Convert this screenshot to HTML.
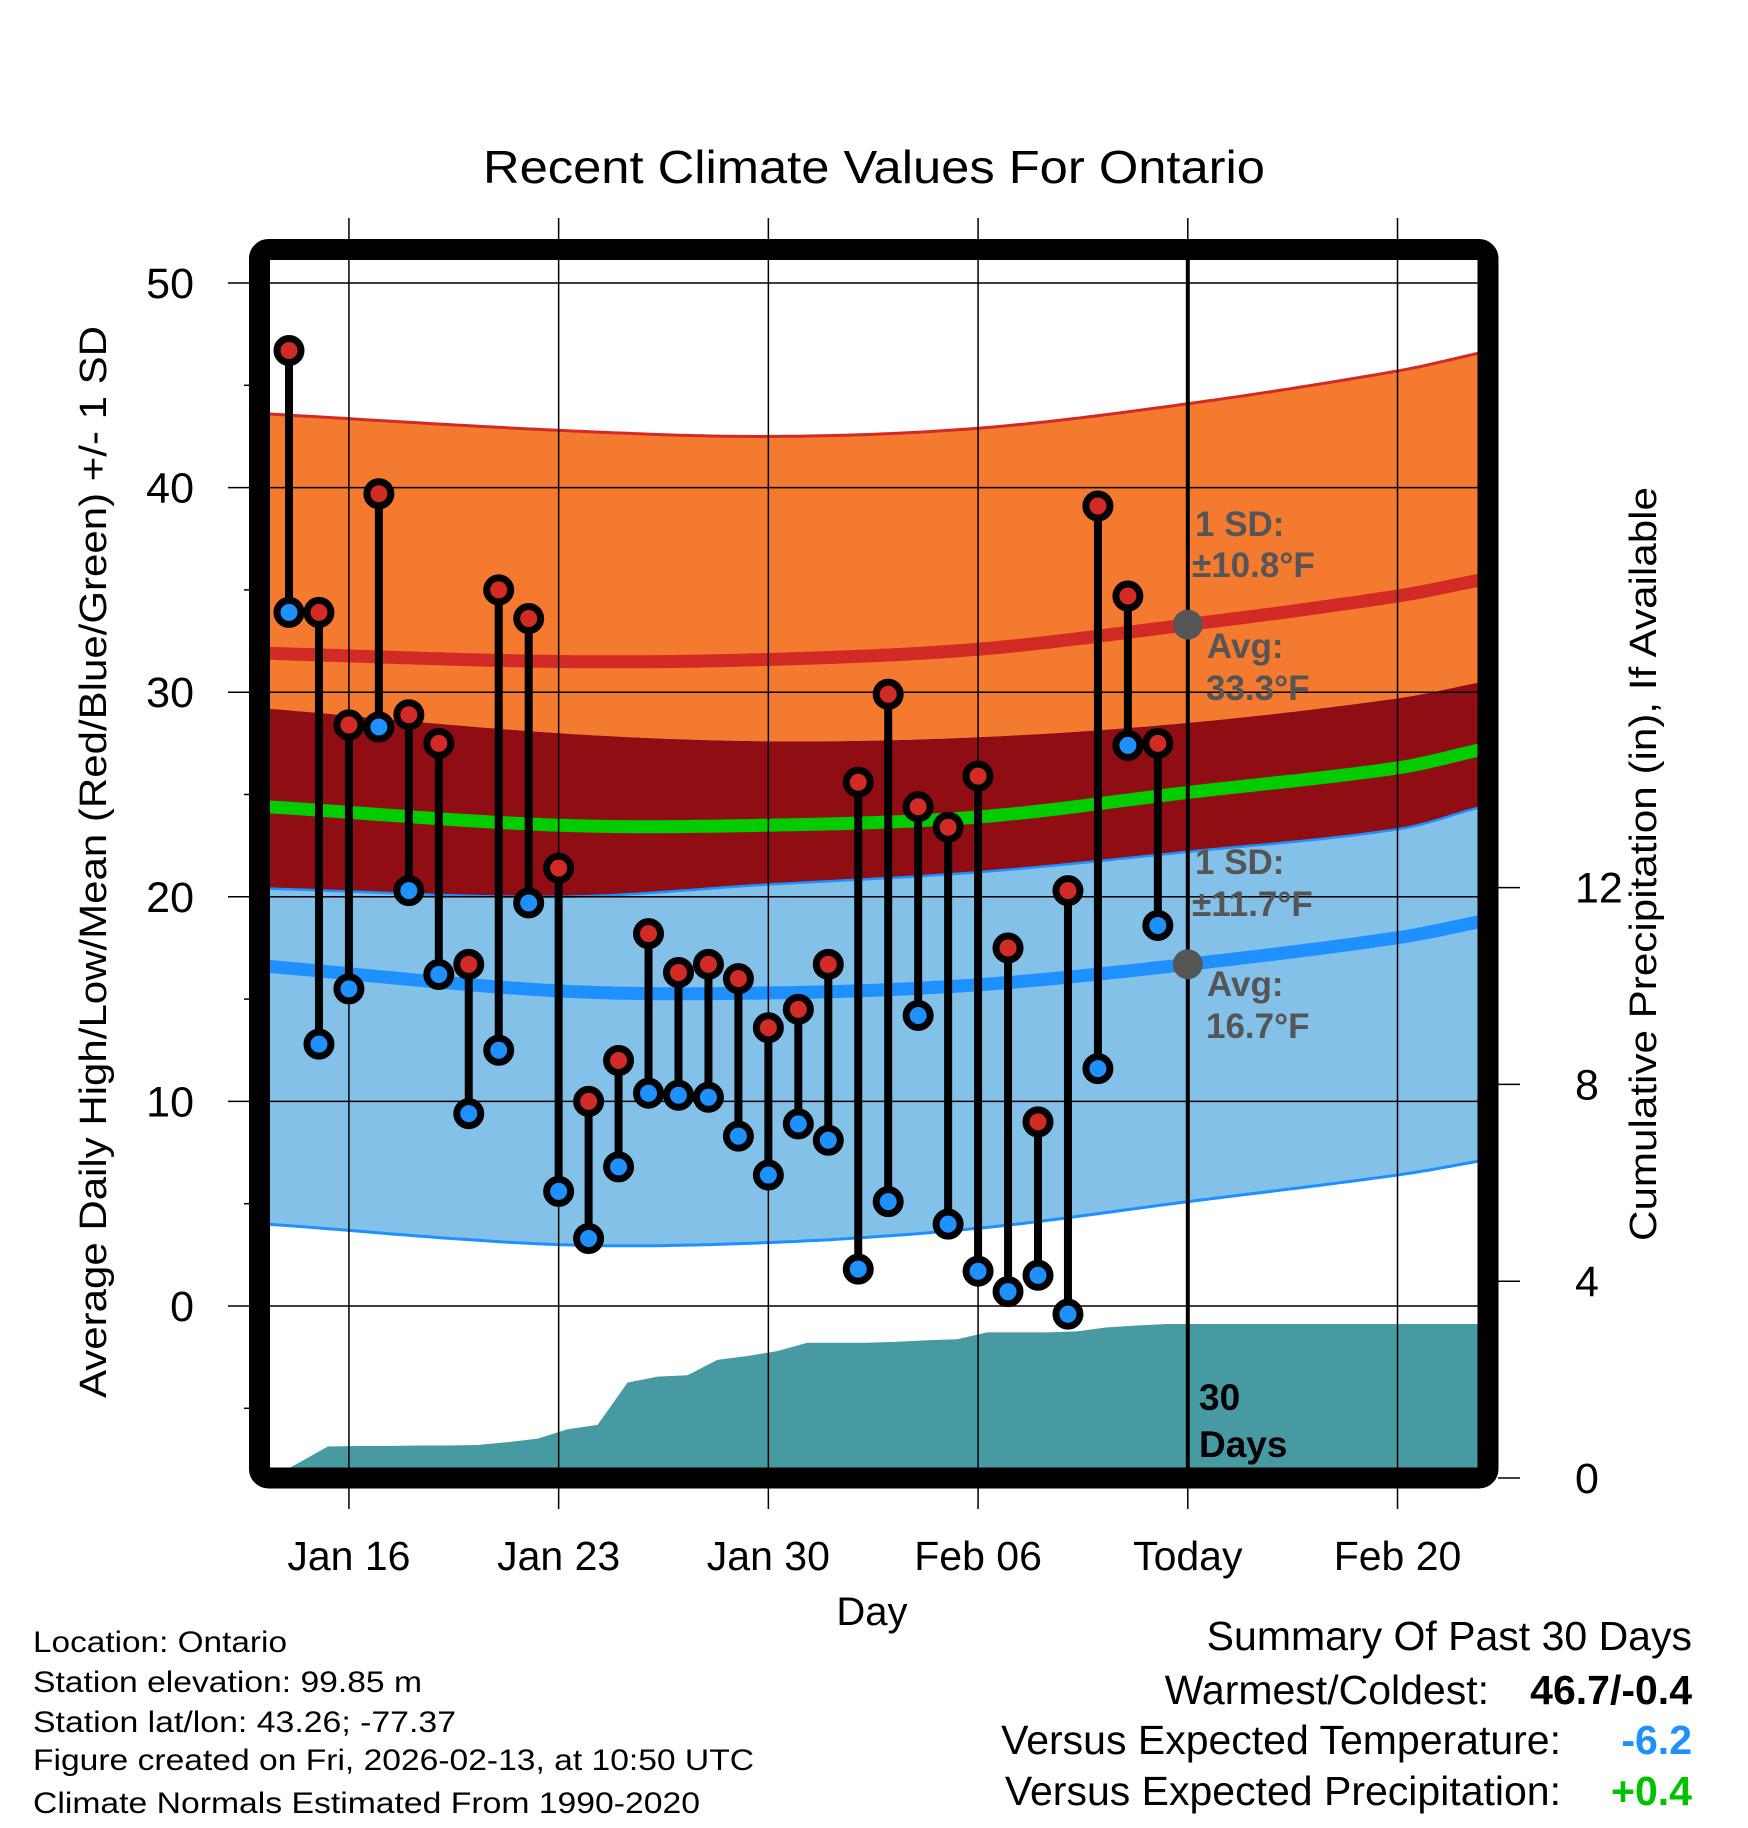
<!DOCTYPE html>
<html><head><meta charset="utf-8"><style>
html,body{margin:0;padding:0;background:#fff;}
svg{display:block;font-family:"Liberation Sans",Arial,sans-serif;}
</style></head><body>
<svg id="chart" width="1748" height="1828" viewBox="0 0 1748 1828" xmlns="http://www.w3.org/2000/svg">
<defs><clipPath id="plotclip"><rect x="262" y="252" width="1224" height="1224"/></clipPath></defs>
<rect x="0" y="0" width="1748" height="1828" fill="#fff"/>
<text x="874" y="183" font-size="46" text-anchor="middle" textLength="782" lengthAdjust="spacingAndGlyphs">Recent Climate Values For Ontario</text>
<g id="bands" clip-path="url(#plotclip)"></g>
<g id="grid"></g>
<g id="marks"></g>
<g id="annot"></g>
<rect x="259.5" y="249.5" width="1228.5" height="1228.5" rx="9" fill="none" stroke="#000" stroke-width="21"/>
<g id="axes"></g>
<text transform="translate(106,862) rotate(-90)" font-size="38" text-anchor="middle" textLength="1072" lengthAdjust="spacingAndGlyphs">Average Daily High/Low/Mean (Red/Blue/Green) +/- 1 SD</text>
<text transform="translate(1656,864) rotate(-90)" font-size="38" text-anchor="middle" textLength="754" lengthAdjust="spacingAndGlyphs">Cumulative Precipitation (in), If Available</text>
<text x="872" y="1625" font-size="40" text-anchor="middle">Day</text>
<g font-size="30">
<text x="33" y="1652" textLength="254" lengthAdjust="spacingAndGlyphs">Location: Ontario</text>
<text x="33" y="1692" textLength="389" lengthAdjust="spacingAndGlyphs">Station elevation: 99.85 m</text>
<text x="33" y="1732" textLength="423" lengthAdjust="spacingAndGlyphs">Station lat/lon: 43.26; -77.37</text>
<text x="33" y="1770" textLength="721" lengthAdjust="spacingAndGlyphs">Figure created on Fri, 2026-02-13, at 10:50 UTC</text>
<text x="33" y="1813" textLength="667" lengthAdjust="spacingAndGlyphs">Climate Normals Estimated From 1990-2020</text>
</g>
<g font-size="41">
<text x="1692" y="1650" text-anchor="end">Summary Of Past 30 Days</text>
<text x="1489" y="1704" text-anchor="end">Warmest/Coldest:</text>
<text x="1692" y="1704" text-anchor="end" font-weight="bold">46.7/-0.4</text>
<text x="1561" y="1754" text-anchor="end">Versus Expected Temperature:</text>
<text x="1692" y="1754" text-anchor="end" font-weight="bold" fill="#1e90ff">-6.2</text>
<text x="1561" y="1805" text-anchor="end">Versus Expected Precipitation:</text>
<text x="1692" y="1805" text-anchor="end" font-weight="bold" fill="#00c000">+0.4</text>
</g>
</svg>
<script>
// Daily observations Jan 14 .. Feb 12
const days = ["Jan 14","Jan 15","Jan 16","Jan 17","Jan 18","Jan 19","Jan 20","Jan 21","Jan 22","Jan 23","Jan 24","Jan 25","Jan 26","Jan 27","Jan 28","Jan 29","Jan 30","Jan 31","Feb 01","Feb 02","Feb 03","Feb 04","Feb 05","Feb 06","Feb 07","Feb 08","Feb 09","Feb 10","Feb 11","Feb 12"];
const highs = [46.7,33.9,28.4,39.7,28.9,27.5,16.7,35.0,33.6,21.4,10.0,12.0,18.2,16.3,16.7,16.0,13.6,14.5,16.7,25.6,29.9,24.4,23.4,25.9,17.5,9.0,20.3,39.1,34.7,27.5];
const lows = [33.9,12.8,15.5,28.3,20.3,16.2,9.4,12.5,19.7,5.6,3.3,6.8,10.4,10.3,10.2,8.3,6.4,8.9,8.1,1.8,5.1,14.2,4.0,1.7,0.7,1.5,-0.4,11.6,27.4,18.6];
const precipCum = [0.3,0.64,0.65,0.65,0.66,0.66,0.67,0.73,0.8,0.99,1.08,1.94,2.06,2.09,2.4,2.48,2.58,2.75,2.75,2.75,2.77,2.8,2.82,2.96,2.96,2.96,2.98,3.06,3.1,3.13];
// Normals sampled at day offsets (0 = Jan 14)
const normDays = [-0.7,9,16,23,30,37,39.8];
const hiUpper = [43.6,42.8,42.5,42.9,44.1,45.7,46.6];
const hiMean = [31.9,31.5,31.6,32.1,33.3,34.7,35.5];
const hiLower = [29.2,28.0,27.6,27.8,28.5,29.7,30.5];
const avgMean = [24.4,23.5,23.5,23.9,25.1,26.3,27.2];
const loUpper = [20.4,20.0,20.6,21.2,22.2,23.3,24.4];
const loMean = [16.6,15.4,15.3,15.7,16.7,18.0,18.8];
const loLower = [4.0,3.0,3.1,3.8,5.1,6.4,7.1];
const xTickLabels = ["Jan 16","Jan 23","Jan 30","Feb 06","Today","Feb 20"];
const xTickDays = [2,9,16,23,30,37];
const yTicks = [0,10,20,30,40,50];
const y2Ticks = [0,4,8,12];

const NS="http://www.w3.org/2000/svg";
const X = d => 289 + 29.96*d;
const Y = t => 1306 - 20.46*t;
const Y2 = p => 1478 - 49.2*p;
function mk(tag, attrs, parent){const e=document.createElementNS(NS,tag);for(const k in attrs)e.setAttribute(k,attrs[k]);parent.appendChild(e);return e;}
function slope(arr,i){
  const n=arr.length;
  if(i===0) return (arr[1]-arr[0])/(normDays[1]-normDays[0]);
  if(i===n-1) return (arr[n-1]-arr[n-2])/(normDays[n-1]-normDays[n-2]);
  return (arr[i+1]-arr[i-1])/(normDays[i+1]-normDays[i-1]);
}
function interp(arr, d){
  let i=0; while(i<normDays.length-2 && d>normDays[i+1]) i++;
  const h=normDays[i+1]-normDays[i];
  const t=(d-normDays[i])/h, t2=t*t, t3=t2*t;
  const m0=slope(arr,i)*h, m1=slope(arr,i+1)*h;
  return (2*t3-3*t2+1)*arr[i]+(t3-2*t2+t)*m0+(-2*t3+3*t2)*arr[i+1]+(t3-t2)*m1;
}
function curvePts(arr){const pts=[];for(let d=normDays[0];d<=normDays[normDays.length-1]+0.001;d+=0.25)pts.push([X(d),Y(interp(arr,d))]);return pts;}
function line(pts){return pts.map((p,i)=>(i?'L':'M')+p[0].toFixed(1)+','+p[1].toFixed(1)).join(' ');}
function band(a,b){const pa=curvePts(a),pb=curvePts(b).reverse();return line(pa)+' '+pb.map(p=>'L'+p[0].toFixed(1)+','+p[1].toFixed(1)).join(' ')+' Z';}

const bands=document.getElementById('bands');
let e;
e=mk('path',{d:band(hiUpper,hiLower),fill:'#f47a2f'},bands);


e=mk('path',{d:band(hiLower,loUpper),fill:'#900d14'},bands);


e=mk('path',{d:band(loUpper,loLower),fill:'#84c1e8'},bands);


// precipitation area
const pp=[[X(-0.7),Y2(0)],[X(-0.6),Y2(0)]];
precipCum.forEach((v,i)=>pp.push([X(i+0.3),Y2(v)]));
pp.push([X(39.8),Y2(precipCum[precipCum.length-1])]);
pp.push([X(39.8),Y2(0)]);
e=mk('path',{d:line(pp)+' Z',fill:'#4799a2'},bands);


e=mk('path',{d:line(curvePts(hiUpper)),fill:'none',stroke:'#d22a25','stroke-width':3},bands);


e=mk('path',{d:line(curvePts(hiMean)),fill:'none',stroke:'#d22a25','stroke-width':13},bands);


e=mk('path',{d:line(curvePts(avgMean)),fill:'none',stroke:'#00cc00','stroke-width':13},bands);


e=mk('path',{d:line(curvePts(loUpper)),fill:'none',stroke:'#1e90ff','stroke-width':2.5},bands);


e=mk('path',{d:line(curvePts(loMean)),fill:'none',stroke:'#1e90ff','stroke-width':13},bands);


e=mk('path',{d:line(curvePts(loLower)),fill:'none',stroke:'#1e90ff','stroke-width':3},bands);



// grid
const grid=document.getElementById('grid');
yTicks.forEach(t=>{
  const g=mk('line',{x1:228,x2:1488,y1:Y(t),y2:Y(t),stroke:'#000','stroke-width':1.5},grid);
  
  
});
xTickDays.forEach(d=>{
  const g=mk('line',{x1:X(d),x2:X(d),y1:218,y2:1509,stroke:'#000','stroke-width':1.5},grid);
  
  
});
e=mk('line',{x1:X(30),x2:X(30),y1:250,y2:1478,stroke:'#000','stroke-width':4},grid);



// marks
const marks=document.getElementById('marks');
highs.forEach((h,i)=>{
  const l=lows[i];
  const s=mk('line',{x1:X(i),x2:X(i),y1:Y(h),y2:Y(l),stroke:'#000','stroke-width':8},marks);
  
  
});
highs.forEach((h,i)=>{
  const c1=mk('circle',{cx:X(i),cy:Y(h),r:12,fill:'#d22a25',stroke:'#000','stroke-width':7},marks);
  
  
  const c2=mk('circle',{cx:X(i),cy:Y(lows[i]),r:12,fill:'#1e90ff',stroke:'#000','stroke-width':7},marks);
  
  
});

// annotations
const an=document.getElementById('annot');
e=mk('circle',{cx:X(30),cy:Y(hiMean[4]),r:15,fill:'#555'},an);


e=mk('circle',{cx:X(30),cy:Y(loMean[4]),r:15,fill:'#555'},an);


const notes=[[1195,536,'1 SD:'],[1192,577,'±10.8°F'],[1207,658,'Avg:'],[1206,700,'33.3°F'],[1195,874,'1 SD:'],[1192,916,'±11.7°F'],[1207,996,'Avg:'],[1206,1038,'16.7°F']];
notes.forEach(n=>{
  const t=mk('text',{x:n[0],y:n[1],'font-size':35,'font-weight':'bold',fill:'#555'},an);
  t.textContent=n[2];
  
  
});
[[1199,1410,'30'],[1199,1457,'Days']].forEach(n=>{
  const t=mk('text',{x:n[0],y:n[1],'font-size':37,'font-weight':'bold',fill:'#000'},an);
  t.textContent=n[2];
  
  
});

// axes
const ax=document.getElementById('axes');
yTicks.forEach(t=>{
  const l=mk('text',{x:194,y:Y(t)+15,'font-size':43,'text-anchor':'end'},ax);
  l.textContent=t;
  
  
});
for(let t=-5;t<=45;t+=10){
  const m=mk('line',{x1:244,x2:252,y1:Y(t),y2:Y(t),stroke:'#000','stroke-width':1.5},ax);
  
  
}
y2Ticks.forEach(p=>{
  const m=mk('line',{x1:1498,x2:1520,y1:Y2(p),y2:Y2(p),stroke:'#000','stroke-width':1.5},ax);
  
  
  const l=mk('text',{x:1575,y:Y2(p)+15,'font-size':43},ax);
  l.textContent=p;
  
  
});
xTickLabels.forEach((s,i)=>{
  const l=mk('text',{x:X(xTickDays[i]),y:1570,'font-size':41,'text-anchor':'middle'},ax);
  l.textContent=s;
  
  
});
</script>
</body></html>
